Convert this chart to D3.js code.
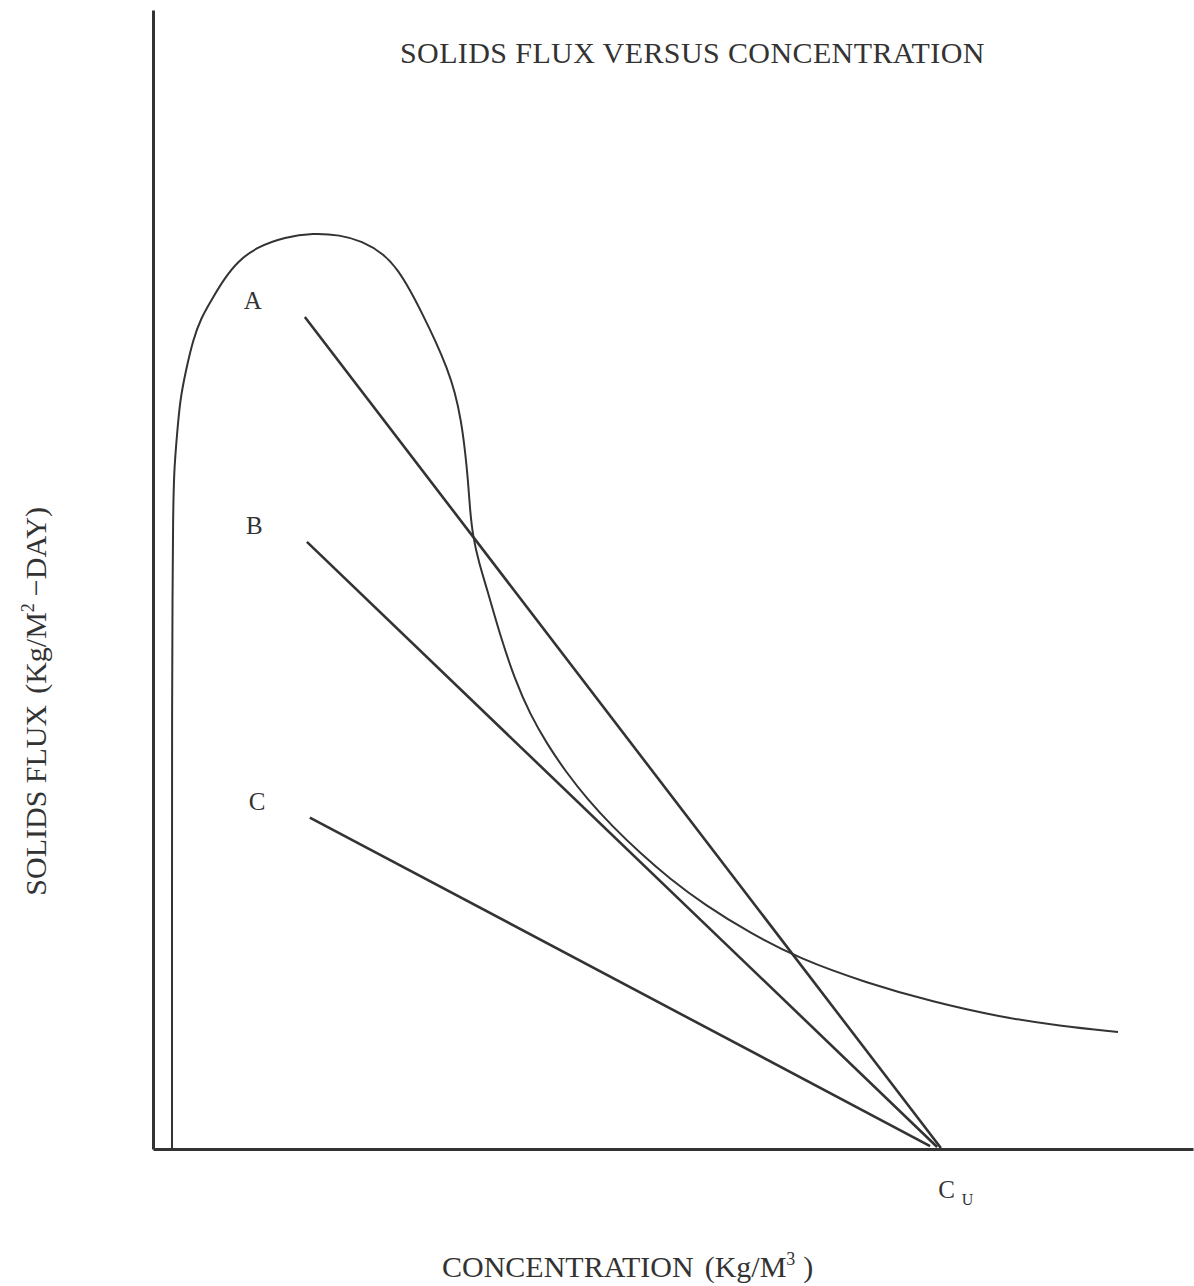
<!DOCTYPE html>
<html lang="en">
<head>
    <meta charset="UTF-8">
    <title>Solids flux versus concentration</title>
    <style>
        body {
            margin: 0;
            background-color: #ffffff;
        }

        svg text {
            font-family: "Liberation Serif", "Times New Roman", serif;
            fill: #333333;
        }
    </style>
</head>
<body>
<svg id="chart"></svg>
<script src="https://d3js.org/d3.v7.min.js"></script>
<script>
    // settling flux curve (concentration Kg/M3, flux Kg/M2-day)
    const curveConc = [0.457, 0.457, 0.457, 0.469, 0.481, 0.505, 0.577, 0.649, 0.793, 0.962, 1.154, 1.418, 1.707, 2.043, 2.5, 3.173, 3.846,
        4.495, 5.024, 5.553, 5.889, 6.178, 6.490, 6.803, 7.067, 7.260, 7.404, 7.500, 7.572, 7.620, 7.692, 7.837, 8.029, 8.341, 8.702,
        9.063, 9.471, 9.928, 10.457, 11.034, 11.707, 12.428, 13.269, 14.351, 15.553, 17.163, 18.750, 20.361, 21.803, 23.197];
    const curveFlux = [0, 21.86, 39.42, 48.2, 55.22, 59.61, 62.69, 65.76, 68.39, 71.03, 72.96, 74.62, 76.38, 77.96, 79.19, 80.07, 80.42,
        80.25, 79.72, 78.58, 77.17, 75.42, 73.22, 70.85, 68.57, 66.46, 64.00, 61.37, 58.74, 56.10, 53.73, 51.45, 49.17, 45.13, 41.18,
        38.19, 35.56, 33.10, 30.64, 28.36, 25.99, 23.71, 21.42, 18.96, 16.68, 14.57, 12.91, 11.59, 10.80, 10.27];

    // operating lines, all running down to the underflow concentration
    const lineNames = ["A", "B", "C"];
    const lineStartConc = [3.65, 3.70, 3.77];
    const lineStartFlux = [73.05, 53.3, 29.1];
    const lineEndConc = [18.94, 18.85, 18.68];
    const lineEndFlux = [0.09, 0.18, 0.26];

    const underflowConc = 18.85;

    const width = 1194, height = 1286;
    const margin = {left: 153, right: 1, top: 10, bottom: 137};
    const ink = "#333333";

    const x = d3.scaleLinear().domain([0, 25]).range([margin.left, width - margin.right]);
    const y = d3.scaleLinear().domain([0, 100]).range([height - margin.bottom, margin.top]);

    const svg = d3.select("#chart")
        .attr("width", width)
        .attr("height", height);

    // axes: plain lines, no ticks
    svg.append("g")
        .attr("transform", `translate(0, ${y(0)})`)
        .call(d3.axisBottom(x).tickValues([]).tickSizeOuter(0))
        .select(".domain")
        .attr("stroke", ink)
        .attr("stroke-width", 3);

    svg.append("g")
        .attr("transform", `translate(${x(0)}, 0)`)
        .call(d3.axisLeft(y).tickValues([]).tickSizeOuter(0))
        .select(".domain")
        .attr("stroke", ink)
        .attr("stroke-width", 3);

    // flux curve
    const curvePts = d3.zip(curveConc, curveFlux);
    svg.append("path")
        .datum(curvePts)
        .attr("fill", "none")
        .attr("stroke", ink)
        .attr("stroke-width", 2)
        .attr("d", d3.line()
            .x(d => x(d[0]))
            .y(d => y(d[1]))
            .curve(d3.curveBasis));

    // operating lines and their letters
    const lines = lineNames.map((name, i) => ({
        name: name,
        x1: lineStartConc[i], y1: lineStartFlux[i],
        x2: lineEndConc[i], y2: lineEndFlux[i]
    }));

    svg.selectAll("line.op")
        .data(lines)
        .join("line")
        .attr("class", "op")
        .attr("x1", d => x(d.x1))
        .attr("y1", d => y(d.y1))
        .attr("x2", d => x(d.x2))
        .attr("y2", d => y(d.y2))
        .attr("stroke", ink)
        .attr("stroke-width", 2.6);

    svg.selectAll("text.opLabel")
        .data(lines)
        .join("text")
        .attr("class", "opLabel")
        .attr("x", d => x(d.x1) - 61)
        .attr("y", d => y(d.y1) - 8)
        .attr("font-size", 25)
        .text(d => d.name);

    // C_U under the meeting point
    const cu = svg.append("text")
        .attr("x", x(underflowConc) + 1)
        .attr("y", y(0) + 49)
        .attr("font-size", 25);
    cu.append("tspan").text("C");
    cu.append("tspan").attr("dx", 7).attr("dy", 7).attr("font-size", 16).text("U");

    // title
    svg.append("text")
        .attr("x", 400)
        .attr("y", 63)
        .attr("font-size", 30)
        .attr("letter-spacing", 0.4)
        .text("SOLIDS FLUX VERSUS CONCENTRATION");

    // x label
    const xl = svg.append("text")
        .attr("x", 442)
        .attr("y", 1277)
        .attr("font-size", 30);
    xl.append("tspan").text("CONCENTRATION");
    xl.append("tspan").attr("dx", 11).text("(Kg/M");
    xl.append("tspan").attr("dy", -12).attr("font-size", 18).text("3");
    xl.append("tspan").attr("dy", 12).attr("dx", 8).text(")");

    // y label
    const yl = svg.append("text")
        .attr("transform", "translate(46, 507) rotate(-90)")
        .attr("text-anchor", "end")
        .attr("font-size", 30);
    yl.append("tspan").text("SOLIDS FLUX");
    yl.append("tspan").attr("dx", 11).text("(Kg/M");
    yl.append("tspan").attr("dy", -12).attr("font-size", 18).text("2");
    yl.append("tspan").attr("dy", 12).attr("dx", 7).text("\u2212DAY)");
</script>
</body>
</html>
